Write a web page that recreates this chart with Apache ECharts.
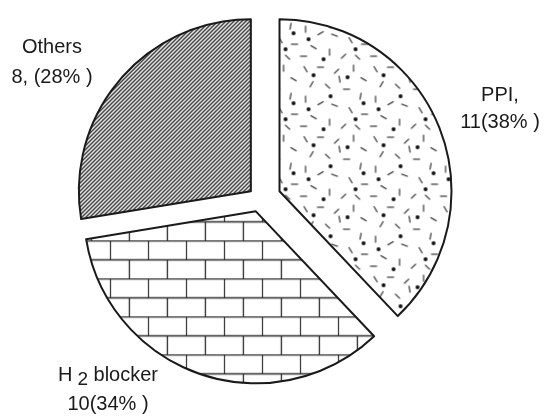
<!DOCTYPE html>
<html>
<head>
<meta charset="utf-8">
<script src="https://cdn.jsdelivr.net/npm/echarts@6/dist/echarts.min.js"></script>
<style>
html,body{margin:0;padding:0;background:#fff;}
#chart{width:544px;height:416px;}
</style>
</head>
<body>
<div id="chart"></div>
<script>
// ---- data ----
const categories = ['PPI', 'H2 blocker', 'Others'];
const counts = [11, 10, 8];
const percentTexts = ['38%', '34%', '28%'];

// ---- layout / style ----
const pieCenter = [260, 199];
const pieRadius = 172;
const sliceOffsets = [21, 13, 12];
const labelCenters = [[500, 108.5], [108, 389.5], [52, 62.5]];
const labelLineHeights = [27, 29, 30];
const ink = '#1a1a1a';

function makeTile(w, h, draw) {
  const c = document.createElement('canvas');
  c.width = w; c.height = h;
  const g = c.getContext('2d');
  g.fillStyle = '#fff';
  g.fillRect(0, 0, w, h);
  draw(g);
  return c;
}

// speckle tile: short dashes + dots (hand-placed texture)
const dashes = [
  [6,7,60],[21,5,0],[37,9,135],[54,6,90],[64,17,30],[12,22,120],[28,24,45],[47,27,0],
  [61,34,100],[6,37,90],[21,41,150],[35,43,20],[51,48,60],[65,52,0],[14,55,30],
  [30,60,90],[44,64,135],[58,65,45],[4,64,0],[40,17,80]
];
const dots = [[14,13],[48,15],[31,34],[9,47],[56,57],[24,67],[64,41]];
const speckle = makeTile(70, 70, g => {
  g.strokeStyle = '#222'; g.lineWidth = 1.1;
  dashes.forEach(([x, y, a]) => {
    const r = a * Math.PI / 180, L = 3.5;
    g.beginPath();
    g.moveTo(x - Math.cos(r) * L, y - Math.sin(r) * L);
    g.lineTo(x + Math.cos(r) * L, y + Math.sin(r) * L);
    g.stroke();
  });
  g.fillStyle = '#111';
  dots.forEach(([x, y]) => { g.beginPath(); g.arc(x, y, 2, 0, Math.PI * 2); g.fill(); });
});

// brick tile
const brick = makeTile(38, 38, g => {
  g.strokeStyle = '#2a2a2a'; g.lineWidth = 1.3;
  g.beginPath();
  g.moveTo(0, 0.5); g.lineTo(38, 0.5);
  g.moveTo(0, 19.5); g.lineTo(38, 19.5);
  g.moveTo(0.5, 0); g.lineTo(0.5, 19);
  g.moveTo(19.5, 19); g.lineTo(19.5, 38);
  g.stroke();
});

// diagonal hatch tile
const hatch = makeTile(4, 4, g => {
  g.strokeStyle = '#222'; g.lineWidth = 1.3;
  g.beginPath();
  g.moveTo(-1, 5); g.lineTo(5, -1);
  g.moveTo(-1, 1); g.lineTo(1, -1);
  g.moveTo(3, 5); g.lineTo(5, 3);
  g.stroke();
});

const fills = [
  { image: speckle, repeat: 'repeat' },
  { image: brick, repeat: 'repeat' },
  { image: hatch, repeat: 'repeat' }
];

const labelTexts = [
  '{n|PPI,}\n{n|' + counts[0] + '(' + percentTexts[0] + ' )}',
  '{n|H}{s|2}{n| blocker}\n{n|' + counts[1] + '(' + percentTexts[1] + ' )}',
  '{n|' + categories[2] + '}\n{n|' + counts[2] + ', (' + percentTexts[2] + ' )}'
];

const fontFamily = 'Liberation Sans, Arial, sans-serif';

const series = categories.map((cat, k) => ({
  type: 'pie',
  center: pieCenter,
  radius: pieRadius,
  startAngle: 90,
  clockwise: true,
  selectedMode: 'multiple',
  selectedOffset: sliceOffsets[k],
  animation: false,
  emphasis: { disabled: true },
  label: { show: false },
  labelLine: { show: false },
  data: categories.map((c, i) => ({
    name: c,
    value: counts[i],
    selected: i === k,
    itemStyle: i === k
      ? { color: fills[i], borderColor: ink, borderWidth: 2 }
      : { color: 'rgba(0,0,0,0)', borderWidth: 0 }
  }))
}));

const graphics = categories.map((c, i) => ({
  type: 'text',
  x: labelCenters[i][0],
  y: labelCenters[i][1],
  silent: true,
  style: {
    text: labelTexts[i],
    align: 'center',
    verticalAlign: 'middle',
    rich: {
      n: { fontFamily: fontFamily, fontSize: 20, fill: '#1a1a1a', lineHeight: labelLineHeights[i] },
      s: { fontFamily: fontFamily, fontSize: 19, fill: '#1a1a1a', lineHeight: 17, verticalAlign: 'bottom', padding: [0, 0, 0, 5] }
    }
  }
}));

const chart = echarts.init(document.getElementById('chart'), null, { renderer: 'canvas' });
chart.setOption({ backgroundColor: '#fff', series: series, graphic: graphics });
</script>
</body>
</html>
